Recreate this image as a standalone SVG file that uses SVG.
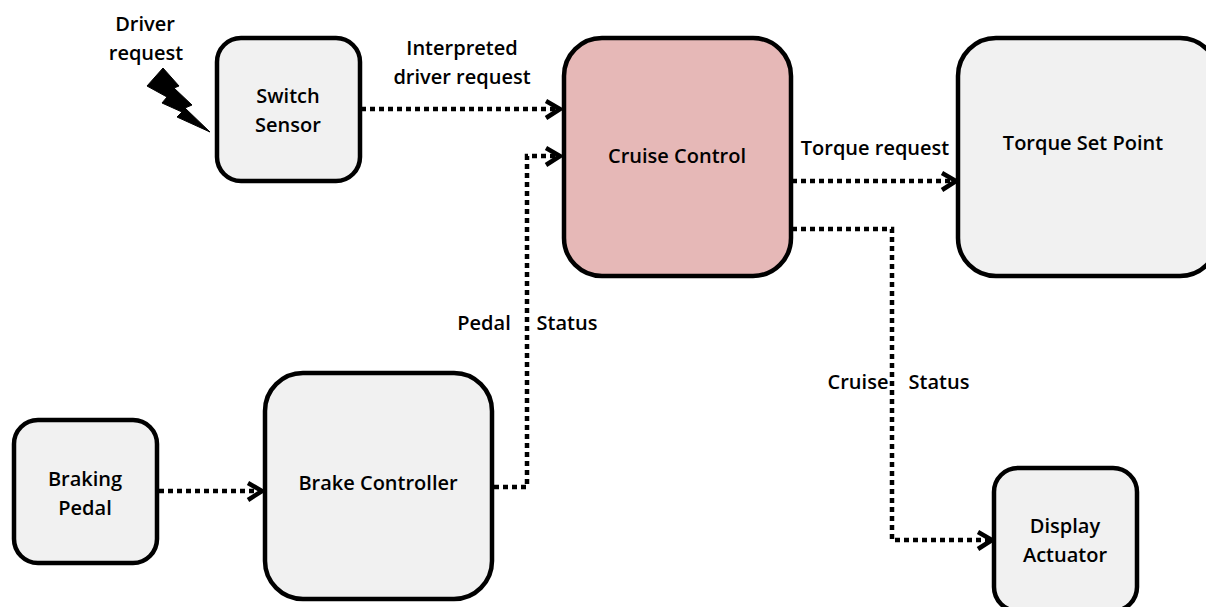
<svg xmlns="http://www.w3.org/2000/svg" width="1206" height="607" viewBox="0 0 1206 607">
<style>
.n{fill:#f1f1f1;stroke:#000;stroke-width:4.5}
.t{font-family:"Open Sans","Liberation Sans",sans-serif;font-size:20px;font-weight:600;fill:#000;text-anchor:middle}
.c{fill:none;stroke:#000;stroke-width:4.5;stroke-dasharray:5 4}
.h{fill:none;stroke:#000;stroke-width:4.5}
</style>
<rect width="1206" height="607" fill="#fff"/>
<g id="connectors">
<path class="c" d="M361 109H556"/><path class="h" d="M546 101L560 109L546 118"/>
<path class="c" d="M494 487H527V156H556"/><path class="h" d="M546 148L560 156L546 165"/>
<path class="c" d="M792 181H952"/><path class="h" d="M942 173L956 181L942 190"/>
<path class="c" d="M792 229H892V540H988"/><path class="h" d="M978 532L992 540L978 549"/>
<path class="c" d="M159 491H258"/><path class="h" d="M248 483L262 491L248 500"/>
</g>
<g id="switch-sensor"><rect class="n" x="217" y="38" width="143" height="143" rx="24"/><text class="t" x="288" y="103">Switch</text><text class="t" x="288" y="132">Sensor</text></g>
<g id="cruise-control"><rect x="564" y="38" width="227" height="238" rx="38" fill="#e6b8b7" stroke="#000" stroke-width="4.5"/><text class="t" x="677" y="163">Cruise Control</text></g>
<g id="torque-set-point"><rect class="n" x="958" y="38" width="260" height="238" rx="38"/><text class="t" x="1083" y="150">Torque Set Point</text></g>
<g id="braking-pedal"><rect class="n" x="14" y="420" width="143" height="143" rx="24"/><text class="t" x="85" y="486">Braking</text><text class="t" x="85" y="515">Pedal</text></g>
<g id="brake-controller"><rect class="n" x="265" y="373" width="227" height="226" rx="38"/><text class="t" x="378" y="490">Brake Controller</text></g>
<g id="display-actuator"><rect class="n" x="994" y="468" width="143" height="143" rx="24"/><text class="t" x="1065" y="533">Display</text><text class="t" x="1065" y="562">Actuator</text></g>
<g id="driver-request"><polygon points="163,68 179,86 174,88 192,105 185,108 210,132 177,117 182,112 162,103 167,97 147,86" fill="#000" stroke="#000" stroke-width="1" stroke-linejoin="round"/>
<text class="t" x="145" y="31">Driver</text><text class="t" x="146" y="60">request</text></g>
<g id="labels">
<text class="t" x="462" y="55">Interpreted</text><text class="t" x="462" y="84">driver request</text>
<text class="t" x="875" y="155">Torque request</text>
<text class="t" x="484" y="330">Pedal</text><text class="t" x="567" y="330">Status</text>
<text class="t" x="858" y="389">Cruise</text><text class="t" x="939" y="389">Status</text>
</g>
</svg>
